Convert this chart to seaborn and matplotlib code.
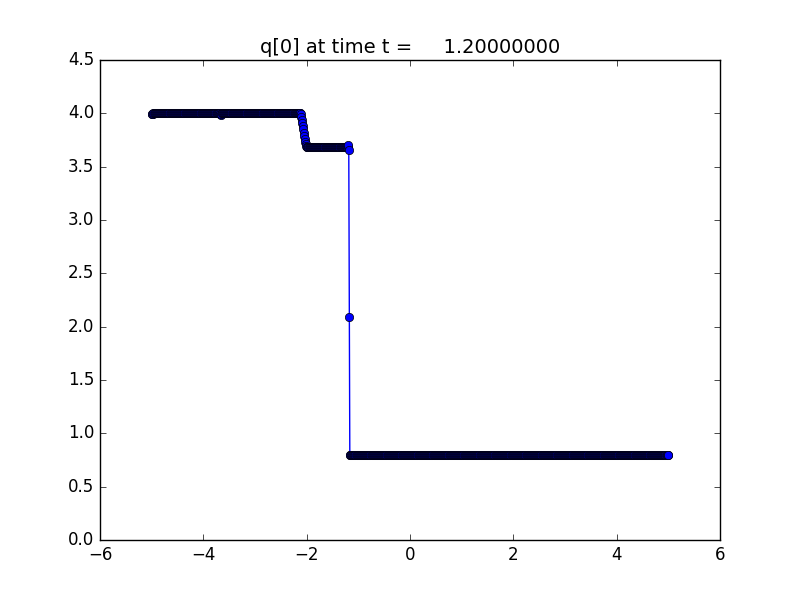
import numpy as np
import pandas as pd
import matplotlib
matplotlib.use("Agg")
import matplotlib.pyplot as plt
import seaborn as sns

# cell centres of a 1000-cell grid on [-5, 5]
n_cells = 1000
x_lo, x_hi = -5.0, 5.0

# constant states
left_level = 4.0
middle_level = 3.68
right_level = 0.80

# small bumps on the left state (x, q)
bump_x = [-4.995, -4.985, -4.975, -3.675, -3.665, -3.655]
bump_q = [3.99, 3.992, 3.995, 3.99, 3.986, 3.99]

# rarefaction fan, one value per cell starting at x = -2.125
fan_start = -2.125
fan_q = [4.00, 3.99, 3.97, 3.94, 3.91, 3.88, 3.85, 3.82, 3.79, 3.76, 3.73, 3.71, 3.69]

# cells across the shock, starting at x = -1.195
shock_start = -1.195
shock_q = [3.70, 3.66, 2.09]

title = "q[0] at time t =     1.20000000"


def build_profile():
    dx = (x_hi - x_lo) / n_cells
    xc = x_lo + dx * (np.arange(n_cells) + 0.5)
    q = np.where(xc < fan_start, left_level, middle_level)
    q = np.where(xc >= shock_start, right_level, q)
    i0 = int(round((fan_start - xc[0]) / dx))
    q[i0:i0 + len(fan_q)] = fan_q
    i1 = int(round((shock_start - xc[0]) / dx))
    q[i1:i1 + len(shock_q)] = shock_q
    for bx, bq in zip(bump_x, bump_q):
        q[int(round((bx - xc[0]) / dx))] = bq
    return pd.DataFrame({"x": xc, "q": q})


def plot_frame():
    plt.style.use("classic")
    df = build_profile()

    fig, ax = plt.subplots(figsize=(8, 6), dpi=100)
    fig.patch.set_facecolor("white")
    sns.lineplot(data=df, x="x", y="q", ax=ax, sort=False, estimator=None,
                 color="b", marker="o", markersize=6, markeredgecolor="k",
                 markeredgewidth=0.5, linewidth=1)

    ax.set_xlim(-6, 6)
    ax.set_ylim(0, 4.5)
    ax.set_xlabel("")
    ax.set_ylabel("")
    ax.set_title(title, fontsize=14)
    fig.savefig("out.png", dpi=100, facecolor="white")


if __name__ == "__main__":
    plot_frame()
